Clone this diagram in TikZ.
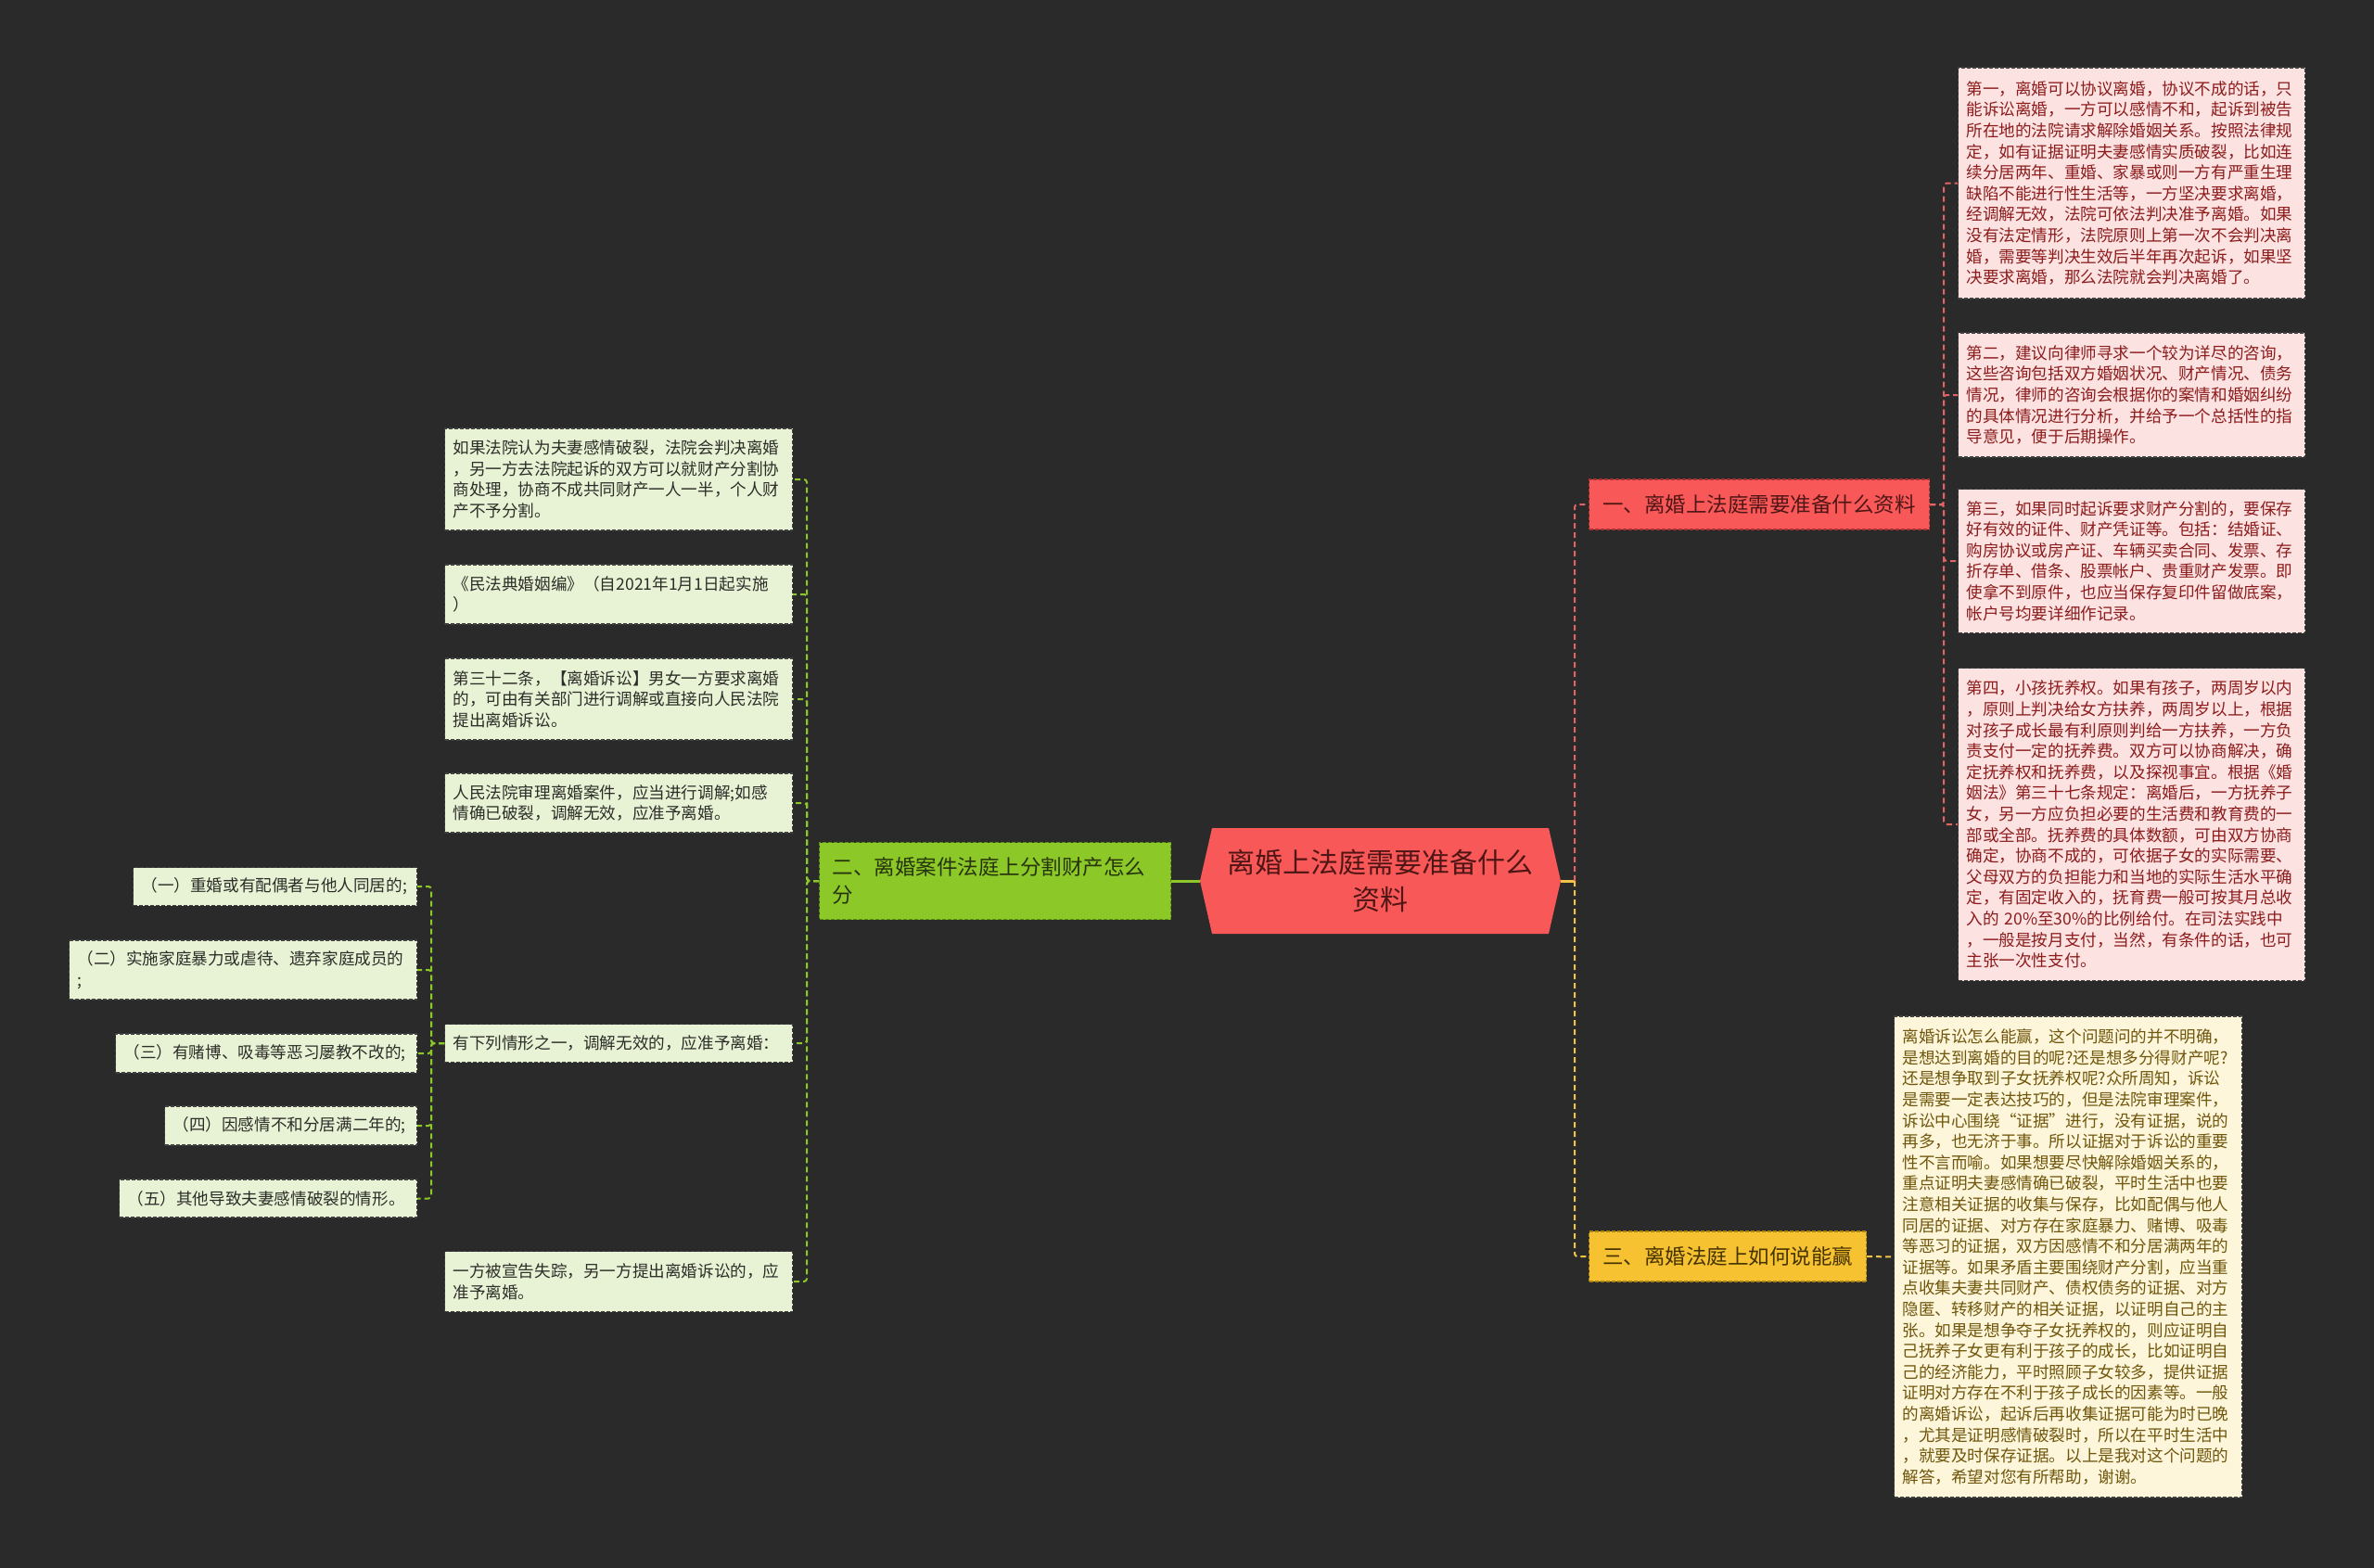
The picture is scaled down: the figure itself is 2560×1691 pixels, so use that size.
\documentclass[tikz,border=0pt]{standalone}
\usepackage{fontspec}
\setmainfont{Noto Sans CJK SC}
\newfontfamily\cjk{Noto Sans CJK SC}
\definecolor{bg}{RGB}{42,42,42}
\definecolor{pinkfill}{RGB}{253,226,226}
\definecolor{pinktext}{RGB}{140,28,28}
\definecolor{creamfill}{RGB}{253,246,218}
\definecolor{creamtext}{RGB}{112,86,12}
\definecolor{greenfill}{RGB}{232,243,214}
\definecolor{greentext}{RGB}{45,45,40}
\definecolor{redmain}{RGB}{249,88,88}
\definecolor{redline}{RGB}{226,100,100}
\definecolor{redborder}{RGB}{170,50,50}
\definecolor{greenmain}{RGB}{140,200,40}
\definecolor{greenborder}{RGB}{90,140,20}
\definecolor{yellowmain}{RGB}{247,194,49}
\definecolor{yellowline}{RGB}{240,196,70}
\definecolor{yellowborder}{RGB}{170,130,20}
\definecolor{darkred}{RGB}{80,22,22}
\definecolor{darkgreen}{RGB}{38,52,12}
\definecolor{darkyellow}{RGB}{70,52,0}
\begin{document}
\begin{tikzpicture}[x=1pt,y=-1pt,
  smallbox/.style={rectangle, anchor=west, inner xsep=9pt, inner ysep=0pt, align=left,
    font={\cjk\fontsize{17.6}{22.6}\selectfont}, draw=black!75, line width=1.1pt,
    dash pattern=on 4pt off 2pt},
  pinkbox/.style={smallbox, fill=pinkfill, text=pinktext},
  creambox/.style={smallbox, fill=creamfill, text=creamtext},
  greenbox/.style={smallbox, fill=greenfill, text=greentext},
  branch/.style={rectangle, anchor=west, inner xsep=12pt, inner ysep=0pt,
    font={\cjk\fontsize{22.5}{30}\selectfont}, line width=1.2pt, dash pattern=on 4pt off 2pt},
  conn/.style={line width=2pt, dash pattern=on 6pt off 4pt, rounded corners=3pt},
  rconn/.style={conn, draw=redline},
  yconn/.style={conn, draw=yellowline},
  gconn/.style={conn, draw=greenmain}
]
\fill[bg] (0,0) rectangle (2560,1691);
\useasboundingbox (0,0) rectangle (2560,1691);

% central topic
\fill[redmain] (1307,893) -- (1670,893) -- (1683,950) -- (1670,1007) -- (1307,1007) -- (1294,950) -- cycle;
\node[font={\cjk\fontsize{30}{40}\selectfont}, text=darkred, align=center, minimum width=389pt, minimum height=114pt, inner sep=0pt] (c) at (1488.5,950) {离婚上法庭需要准备什么\\资料};

% branches
\node[branch, fill=redmain, draw=redborder, text=darkred, minimum width=367pt, minimum height=54pt] (br1) at (1713,544) {一、离婚上法庭需要准备什么资料};
\node[branch, fill=yellowmain, draw=yellowborder, text=darkyellow, minimum width=299pt, minimum height=54pt] (br3) at (1713,1355) {三、离婚法庭上如何说能赢};
\node[branch, fill=greenmain, draw=greenborder, text=darkgreen, inner xsep=14pt, text width=351pt, align=left, minimum height=83pt] (br2) at (883,950) {二、离婚案件法庭上分割财产怎么\\分};

% pink boxes
\node[pinkbox, text width=356pt, minimum height=249pt] (p1) at (2111,197.5) {第一，离婚可以协议离婚，协议不成的话，只\\能诉讼离婚，一方可以感情不和，起诉到被告\\所在地的法院请求解除婚姻关系。按照法律规\\定，如有证据证明夫妻感情实质破裂，比如连\\续分居两年、重婚、家暴或则一方有严重生理\\缺陷不能进行性生活等，一方坚决要求离婚，\\经调解无效，法院可依法判决准予离婚。如果\\没有法定情形，法院原则上第一次不会判决离\\婚，需要等判决生效后半年再次起诉，如果坚\\决要求离婚，那么法院就会判决离婚了。};
\node[pinkbox, text width=356pt, minimum height=134pt] (p2) at (2111,426) {第二，建议向律师寻求一个较为详尽的咨询，\\这些咨询包括双方婚姻状况、财产情况、债务\\情况，律师的咨询会根据你的案情和婚姻纠纷\\的具体情况进行分析，并给予一个总括性的指\\导意见，便于后期操作。};
\node[pinkbox, text width=356pt, minimum height=155pt] (p3) at (2111,605) {第三，如果同时起诉要求财产分割的，要保存\\好有效的证件、财产凭证等。包括：结婚证、\\购房协议或房产证、车辆买卖合同、发票、存\\折存单、借条、股票帐户、贵重财产发票。即\\使拿不到原件，也应当保存复印件留做底案，\\帐户号均要详细作记录。};
\node[pinkbox, text width=356pt, minimum height=337pt] (p4) at (2111,889) {第四，小孩抚养权。如果有孩子，两周岁以内\\，原则上判决给女方扶养，两周岁以上，根据\\对孩子成长最有利原则判给一方扶养，一方负\\责支付一定的抚养费。双方可以协商解决，确\\定抚养权和抚养费，以及探视事宜。根据《婚\\姻法》第三十七条规定：离婚后，一方抚养子\\女，另一方应负担必要的生活费和教育费的一\\部或全部。抚养费的具体数额，可由双方协商\\确定，协商不成的，可依据子女的实际需要、\\父母双方的负担能力和当地的实际生活水平确\\定，有固定收入的，抚育费一般可按其月总收\\入的 20\%至30\%的比例给付。在司法实践中\\，一般是按月支付，当然，有条件的话，也可\\主张一次性支付。};

% cream box
\node[creambox, text width=357pt, minimum height=519pt] (y1) at (2042,1355.5) {离婚诉讼怎么能赢，这个问题问的并不明确，\\是想达到离婚的目的呢?还是想多分得财产呢?\\还是想争取到子女抚养权呢?众所周知，诉讼\\是需要一定表达技巧的，但是法院审理案件，\\诉讼中心围绕“证据”进行，没有证据，说的\\再多，也无济于事。所以证据对于诉讼的重要\\性不言而喻。如果想要尽快解除婚姻关系的，\\重点证明夫妻感情确已破裂，平时生活中也要\\注意相关证据的收集与保存，比如配偶与他人\\同居的证据、对方存在家庭暴力、赌博、吸毒\\等恶习的证据，双方因感情不和分居满两年的\\证据等。如果矛盾主要围绕财产分割，应当重\\点收集夫妻共同财产、债权债务的证据、对方\\隐匿、转移财产的相关证据，以证明自己的主\\张。如果是想争夺子女抚养权的，则应证明自\\己抚养子女更有利于孩子的成长，比如证明自\\己的经济能力，平时照顾子女较多，提供证据\\证明对方存在不利于孩子成长的因素等。一般\\的离婚诉讼，起诉后再收集证据可能为时已晚\\，尤其是证明感情破裂时，所以在平时生活中\\，就要及时保存证据。以上是我对这个问题的\\解答，希望对您有所帮助，谢谢。};

% green boxes
\node[greenbox, text width=357pt, minimum height=110pt] (g1) at (479,517) {如果法院认为夫妻感情破裂，法院会判决离婚\\，另一方去法院起诉的双方可以就财产分割协\\商处理，协商不成共同财产一人一半，个人财\\产不予分割。};
\node[greenbox, text width=357pt, minimum height=64pt] (g2) at (479,641) {《民法典婚姻编》（自2021年1月1日起实施\\）};
\node[greenbox, text width=357pt, minimum height=88pt] (g3) at (479,754) {第三十二条，【离婚诉讼】男女一方要求离婚\\的，可由有关部门进行调解或直接向人民法院\\提出离婚诉讼。};
\node[greenbox, text width=357pt, minimum height=64pt] (g4) at (479,866) {人民法院审理离婚案件，应当进行调解;如感\\情确已破裂，调解无效，应准予离婚。};
\node[greenbox, text width=357pt, minimum height=41pt] (g5) at (479,1125) {有下列情形之一，调解无效的，应准予离婚：};
\node[greenbox, text width=357pt, minimum height=65pt] (g6) at (479,1382) {一方被宣告失踪，另一方提出离婚诉讼的，应\\准予离婚。};

% sub items
\node[greenbox, text width=288pt, minimum height=41pt] (s1) at (143,956) {（一）重婚或有配偶者与他人同居的;};
\node[greenbox, text width=357pt, minimum height=64pt] (s2) at (74,1046) {（二）实施家庭暴力或虐待、遗弃家庭成员的\\;};
\node[greenbox, text width=307pt, minimum height=42pt] (s3) at (124,1136) {（三）有赌博、吸毒等恶习屡教不改的;};
\node[greenbox, text width=254pt, minimum height=42pt] (s4) at (177,1214) {（四）因感情不和分居满二年的;};
\node[greenbox, text width=303pt, minimum height=41pt] (s5) at (128,1292.5) {（五）其他导致夫妻感情破裂的情形。};

% connectors: centre
\coordinate (cr) at (1698,950);
\draw[line width=3pt, draw=greenmain] (c.west) -- (br2.east);
\draw[line width=3pt, draw=yellowline] (c.east) -- (cr);
\draw[rconn] (cr) |- (br1.west);
\draw[yconn] (cr) |- (br3.west);

% red branch to pink boxes
\foreach \n in {p1,p2,p3,p4}
  \draw[rconn] (br1.east) -- ++(15,0) |- (\n.west);

% yellow branch to cream box
\draw[yconn] (br3.east) -- (y1.west);

% green branch to green boxes
\foreach \n in {g1,g2,g3,g4,g5,g6}
  \draw[gconn] (br2.west) -- ++(-13,0) |- (\n.east);

% green item 5 to sub items
\foreach \n in {s1,s2,s3,s4,s5}
  \draw[gconn] (g5.west) -- ++(-14,0) |- (\n.east);

\end{tikzpicture}
\end{document}
